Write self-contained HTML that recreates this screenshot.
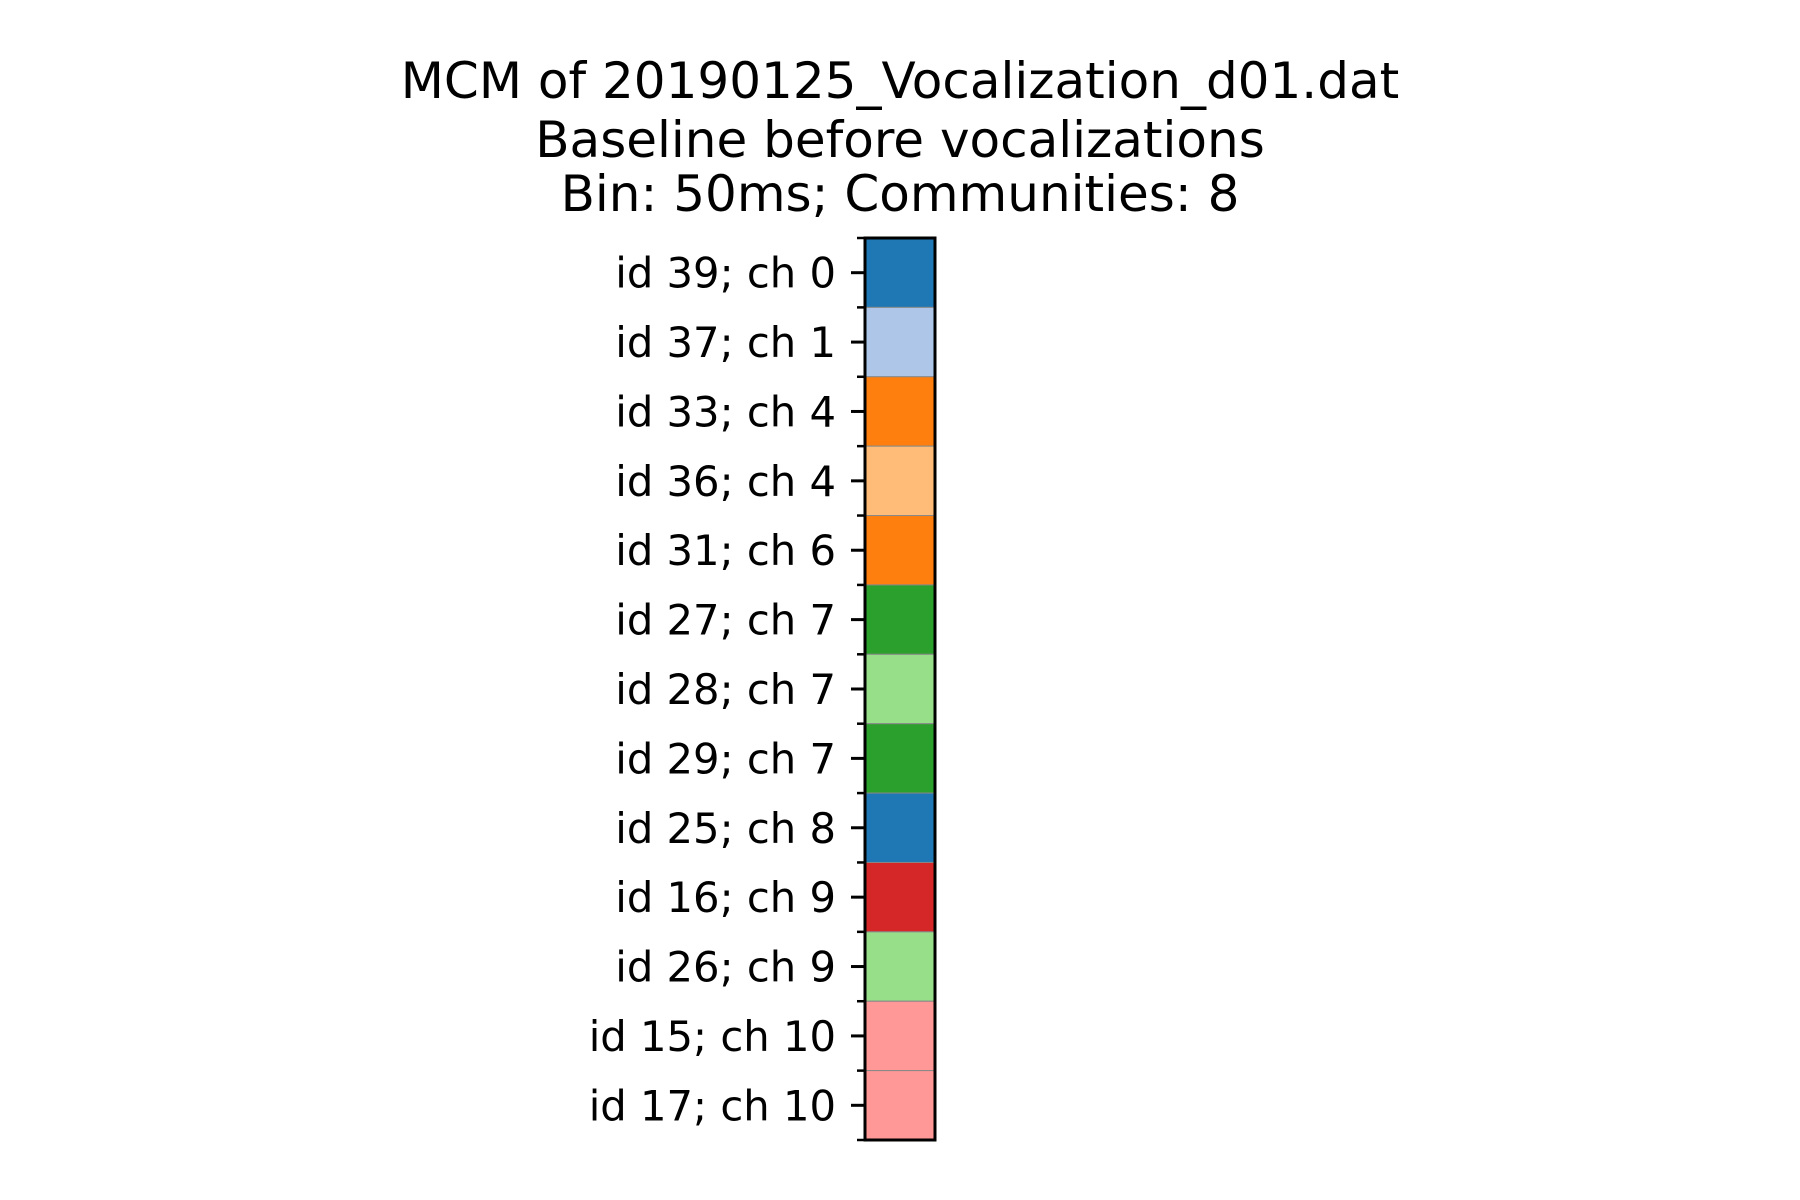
<!DOCTYPE html>
<html>
<head>
<meta charset="utf-8">
<style>
html,body{margin:0;padding:0;background:#fff;}
svg{display:block;font-family:"DejaVu Sans","Liberation Sans",sans-serif;}
</style>
</head>
<body>
<svg id="chart" width="1800" height="1200" viewBox="0 0 1800 1200">
  <g font-size="50" text-anchor="middle" fill="#000">
    <text x="900" y="98">MCM of 20190125_Vocalization_d01.dat</text>
    <text x="900" y="157">Baseline before vocalizations</text>
    <text x="900" y="211">Bin: 50ms; Communities: 8</text>
  </g>
  <g id="cells"></g>
  <g id="ticks"></g>
  <rect x="865" y="238" width="70" height="902" fill="none" stroke="#000" stroke-width="3"/>
</svg>
<script>
const labels = ["id 39; ch 0","id 37; ch 1","id 33; ch 4","id 36; ch 4","id 31; ch 6","id 27; ch 7","id 28; ch 7","id 29; ch 7","id 25; ch 8","id 16; ch 9","id 26; ch 9","id 15; ch 10","id 17; ch 10"];
const communities = [0,1,2,3,2,4,5,4,0,6,5,7,7];
const palette = ["#1f77b4","#aec7e8","#ff7f0e","#ffbb78","#2ca02c","#98df8a","#d62728","#ff9896"];

const NS="http://www.w3.org/2000/svg";
const x0=865, x1=935, y0=238, y1=1140;
const rowH=(y1-y0)/labels.length;
function yPos(i){return y0+i*rowH;}
const cells=document.getElementById('cells');
const ticks=document.getElementById('ticks');
labels.forEach((lab,i)=>{
  const r=document.createElementNS(NS,'rect');
  r.setAttribute('x',x0);r.setAttribute('y',yPos(i));
  r.setAttribute('width',x1-x0);r.setAttribute('height',rowH);
  r.setAttribute('fill',palette[communities[i]]);
  r.setAttribute('stroke','#888');r.setAttribute('stroke-width','1');
  
  
  cells.appendChild(r);
  const yc=yPos(i)+rowH/2;
  const t=document.createElementNS(NS,'line');
  t.setAttribute('x1',x0-14);t.setAttribute('x2',x0);
  t.setAttribute('y1',yc);t.setAttribute('y2',yc);
  t.setAttribute('stroke','#000');t.setAttribute('stroke-width','3');
  
  
  ticks.appendChild(t);
  const tx=document.createElementNS(NS,'text');
  tx.setAttribute('x',x0-29);tx.setAttribute('y',yc+15);
  tx.setAttribute('text-anchor','end');tx.setAttribute('font-size','41.7');
  tx.textContent=lab;
  
  
  ticks.appendChild(tx);
});
for(let i=0;i<=labels.length;i++){
  const m=document.createElementNS(NS,'line');
  m.setAttribute('x1',x0-8);m.setAttribute('x2',x0);
  m.setAttribute('y1',yPos(i));m.setAttribute('y2',yPos(i));
  m.setAttribute('stroke','#000');m.setAttribute('stroke-width','2.5');
  
  
  ticks.appendChild(m);
}
</script>
</body>
</html>
